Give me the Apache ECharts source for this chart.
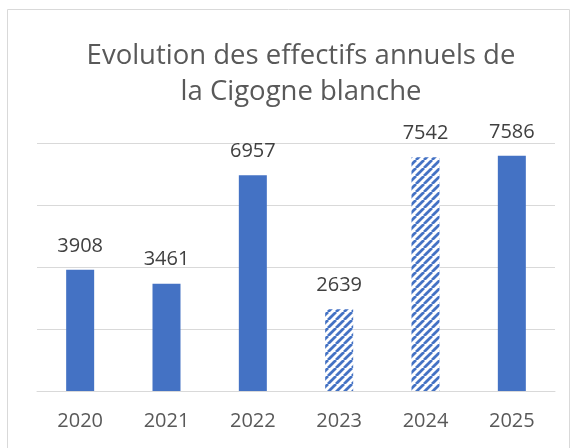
<!DOCTYPE html>
<html>
<head>
<meta charset="utf-8">
<script src="https://cdn.jsdelivr.net/npm/echarts@6/dist/echarts.min.js"></script>
<style>
  html, body { margin: 0; padding: 0; background: #fff; }
  #chart { width: 577px; height: 448px; }
</style>
</head>
<body>
<div id="chart"></div>
<script>
const years = ["2020", "2021", "2022", "2023", "2024", "2025"];
const counts = [3908, 3461, 6957, 2639, 7542, 7586];
// years drawn with the hatched fill
const hatchedYears = ["2023", "2024"];
const titleText = "Evolution des effectifs annuels de\nla Cigogne blanche";

const blue = "#4472c4";

// small tile for the "upward diagonal" fill
const makeHatch = () => {
  const size = 8;
  const c = document.createElement("canvas");
  c.width = size;
  c.height = size;
  const ctx = c.getContext("2d");
  ctx.fillStyle = "#fff";
  ctx.fillRect(0, 0, size, size);
  ctx.strokeStyle = blue;
  ctx.lineWidth = 2.8;
  ctx.beginPath();
  for (let k = -size; k <= size * 2; k += size) {
    ctx.moveTo(k, size);
    ctx.lineTo(k + size, 0);
  }
  ctx.stroke();
  return c;
};
const hatch = { image: makeHatch(), repeat: "repeat" };

const chart = echarts.init(document.getElementById("chart"));

const option = {
  animation: false,
  textStyle: { fontFamily: "Open Sans" },
  graphic: [
    {
      type: "rect",
      shape: { x: 7.5, y: 9.5, width: 562, height: 460 },
      style: { fill: "none", stroke: "#d9d9d9", lineWidth: 1 },
      silent: true,
    },
  ],
  title: {
    text: titleText,
    left: 296,
    top: 33,
    textAlign: "center",
    textStyle: {
      color: "#595959",
      fontSize: 27.5,
      fontWeight: "normal",
      lineHeight: 36,
    },
  },
  grid: { left: 37, right: 22, top: 143, bottom: 57 },
  xAxis: {
    type: "category",
    data: years,
    axisLine: { lineStyle: { color: "#d9d9d9", width: 1 } },
    axisTick: { show: false },
    axisLabel: { color: "#595959", fontSize: 20, margin: 20 },
  },
  yAxis: {
    type: "value",
    min: 0,
    max: 8000,
    interval: 2000,
    axisLabel: { show: false },
    axisLine: { show: false },
    axisTick: { show: false },
    splitLine: { lineStyle: { color: "#d9d9d9", width: 1 } },
  },
  series: [
    {
      type: "bar",
      barWidth: 28,
      data: counts.map((v, i) => ({
        value: v,
        itemStyle: { color: hatchedYears.includes(years[i]) ? hatch : blue },
      })),
      label: {
        show: true,
        position: "top",
        distance: 14,
        color: "#404040",
        fontSize: 20,
      },
    },
  ],
};

chart.setOption(option);
</script>
</body>
</html>
